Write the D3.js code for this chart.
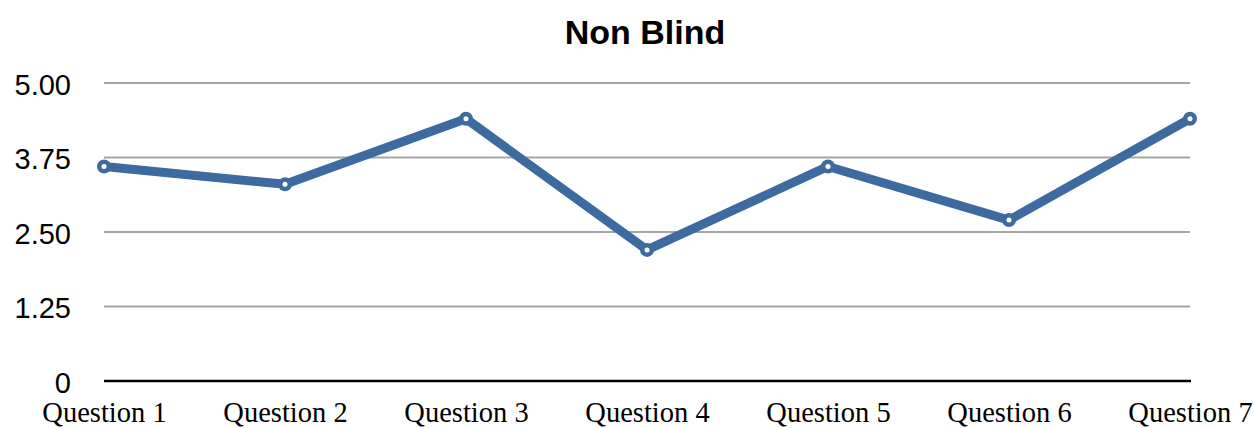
<!DOCTYPE html>
<html>
<head>
<meta charset="utf-8">
<script src="https://cdn.jsdelivr.net/npm/d3@7"></script>
<style>
  html, body { margin: 0; padding: 0; background: #fff; }
  svg { display: block; }
</style>
</head>
<body>
<svg id="chart" width="1254" height="428"></svg>
<script>
// Chart data
const categories = ["Question 1", "Question 2", "Question 3", "Question 4", "Question 5", "Question 6", "Question 7"];
const values = [3.6, 3.3, 4.4, 2.2, 3.6, 2.7, 4.4];
const yTicks = [0, 1.25, 2.5, 3.75, 5];
const chartTitle = "Non Blind";

(function () {
  const svg = d3.select("#chart");
  const plotLeft = 104, plotRight = 1190, plotTop = 83, plotBottom = 381;

  const x = d3.scalePoint().domain(categories).range([plotLeft, plotRight]).padding(0);
  const y = d3.scaleLinear().domain([0, 5]).range([plotBottom, plotTop]);

  // Title
  svg.append("text")
    .attr("x", 645).attr("y", 44)
    .attr("text-anchor", "middle")
    .attr("font-family", "Liberation Sans, Arial, sans-serif")
    .attr("font-weight", "bold")
    .attr("font-size", 34)
    .attr("fill", "#000")
    .text(chartTitle);

  // Horizontal gridlines
  svg.append("g")
    .selectAll("line")
    .data(yTicks.filter(d => d > 0))
    .join("line")
    .attr("x1", plotLeft).attr("x2", plotRight)
    .attr("y1", d => y(d)).attr("y2", d => y(d))
    .attr("stroke", "#a6a6a6").attr("stroke-width", 2);

  // Y axis labels
  const yAxis = d3.axisLeft(y).tickValues(yTicks)
    .tickFormat(d => d === 0 ? "0" : d3.format(".2f")(d))
    .tickSize(0).tickPadding(0);
  const gy = svg.append("g").attr("transform", "translate(71,0)").call(yAxis);
  gy.select(".domain").remove();
  gy.selectAll("text")
    .attr("dy", 11)
    .attr("font-family", "Liberation Sans, Arial, sans-serif")
    .attr("font-size", 29)
    .attr("fill", "#000");

  // X axis baseline and labels
  const xAxis = d3.axisBottom(x).tickSize(0).tickPadding(0);
  const gx = svg.append("g").attr("transform", `translate(0,${plotBottom})`).call(xAxis);
  gx.select(".domain").remove();
  gx.selectAll("text")
    .attr("dy", 0)
    .attr("y", 41)
    .attr("font-family", "Liberation Serif, 'Times New Roman', serif")
    .attr("font-size", 28.5)
    .attr("fill", "#000");
  svg.append("line")
    .attr("x1", plotLeft).attr("x2", plotRight + 1)
    .attr("y1", plotBottom).attr("y2", plotBottom)
    .attr("stroke", "#000").attr("stroke-width", 2.5);

  // Series line
  const color = "#3e6b9f";
  const line = d3.line().x((d, i) => x(categories[i])).y(d => y(d));
  svg.append("path")
    .datum(values)
    .attr("d", line)
    .attr("fill", "none")
    .attr("stroke", color)
    .attr("stroke-width", 9)
    .attr("stroke-linejoin", "round");

  // Markers
  const pts = svg.append("g").selectAll("g").data(values).join("g")
    .attr("transform", (d, i) => `translate(${x(categories[i])},${y(d)})`);
  pts.append("circle").attr("r", 7).attr("fill", color);
  pts.append("circle").attr("r", 2.5).attr("fill", "#fff");
})();
</script>
</body>
</html>
